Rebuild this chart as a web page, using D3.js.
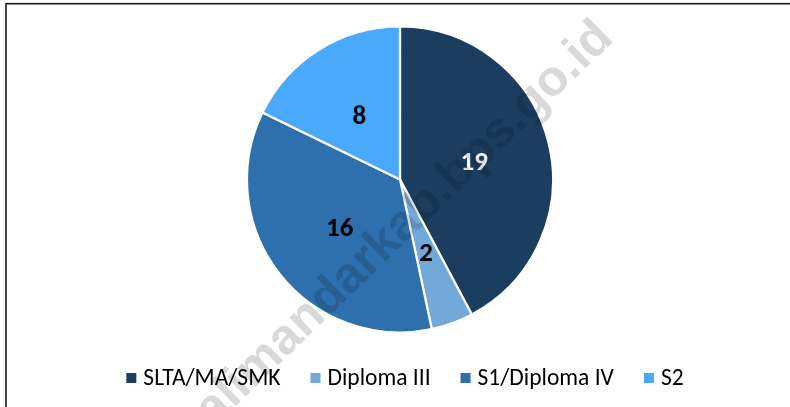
<!DOCTYPE html>
<html>
<head>
<meta charset="utf-8">
<script src="https://cdnjs.cloudflare.com/ajax/libs/d3/7.8.5/d3.min.js"></script>
<style>
	body { margin: 0; background: #fff; }
	svg { display: block; }
</style>
</head>
<body>
<div class="chart"></div>
<script>
// data
var categories = ['SLTA/MA/SMK', 'Diploma III', 'S1/Diploma IV', 'S2'];
var values = [19, 2, 16, 8];
var colors = ['#1b3e60', '#73a8da', '#2e6fad', '#4aa9fb'];
var labelColors = ['#ffffff', '#000000', '#000000', '#000000'];
var watermark = 'polewalimandarkab.bps.go.id';

(function() {
	'use strict';

	var width = 790,
		height = 407;

	var cx = 400,
		cy = 179.5,
		radius = 153;

	var svg = d3.select('.chart').append('svg')
		.attr('width', width)
		.attr('height', height);

	// frame (only the top and left edges show in the picture)
	svg.append('rect')
		.attr('x', 6)
		.attr('y', 3.7)
		.attr('width', width + 20)
		.attr('height', height + 20)
		.attr('fill', 'none')
		.attr('stroke', '#1a1a1a')
		.attr('stroke-width', 1.6);

	var data = categories.map(function(c, i) {
		return { name: c, value: values[i], color: colors[i], label: labelColors[i] };
	});

	var pie = d3.pie()
		.sort(null)
		.value(function(d) { return d.value; });

	var arc = d3.arc()
		.innerRadius(0)
		.outerRadius(radius);

	var g = svg.append('g')
		.attr('transform', 'translate(' + cx + ',' + cy + ')');

	var arcs = pie(data);

	g.selectAll('path.slice')
		.data(arcs)
		.enter().append('path')
		.attr('class', 'slice')
		.attr('d', arc)
		.attr('fill', function(d) { return d.data.color; })
		.attr('stroke', '#fff')
		.attr('stroke-width', 2.2)
		.attr('stroke-linejoin', 'round');

	// data labels at the slice centroids
	g.selectAll('text.value')
		.data(arcs)
		.enter().append('text')
		.attr('class', 'value')
		.attr('transform', function(d) {
			var c = arc.centroid(d);
			return 'translate(' + c[0] + ',' + c[1] + ')';
		})
		.attr('text-anchor', 'middle')
		.attr('dy', '0.34em')
		.attr('fill', function(d) { return d.data.label; })
		.style('font-family', 'Carlito, "Liberation Sans", Arial, sans-serif')
		.style('font-weight', 'bold')
		.style('font-size', '27px')
		.text(function(d) { return d.data.value; });

	// legend
	var legend = svg.append('g')
		.attr('class', 'legend');

	var items = legend.selectAll('g.item')
		.data(data)
		.enter().append('g')
		.attr('class', 'item');

	items.append('rect')
		.attr('width', 10)
		.attr('height', 10)
		.attr('y', 373)
		.attr('fill', function(d) { return d.color; });

	items.append('text')
		.attr('x', 17)
		.attr('y', 385)
		.attr('fill', '#000')
		.style('font-family', 'Carlito, "Liberation Sans", Arial, sans-serif')
		.style('font-size', '23.5px')
		.text(function(d) { return d.name; });

	// lay the items out side by side and center the row
	var x = 0;
	items.each(function() {
		var item = d3.select(this);
		item.attr('transform', 'translate(' + x + ',0)');
		x += 17 + item.select('text').node().getComputedTextLength() + 30;
	});
	var total = x - 30;
	legend.attr('transform', 'translate(' + (405 - total / 2) + ',0)');

	// watermark, multiplied over everything
	svg.append('text')
		.attr('transform', 'translate(615,40) rotate(-44)')
		.attr('text-anchor', 'end')
		.attr('fill', '#d9d9d9')
		.style('mix-blend-mode', 'multiply')
		.style('font-family', '"Liberation Sans", Arial, sans-serif')
		.style('font-weight', 'bold')
		.style('font-size', '50px')
		.text(watermark);

})();
</script>
</body>
</html>
